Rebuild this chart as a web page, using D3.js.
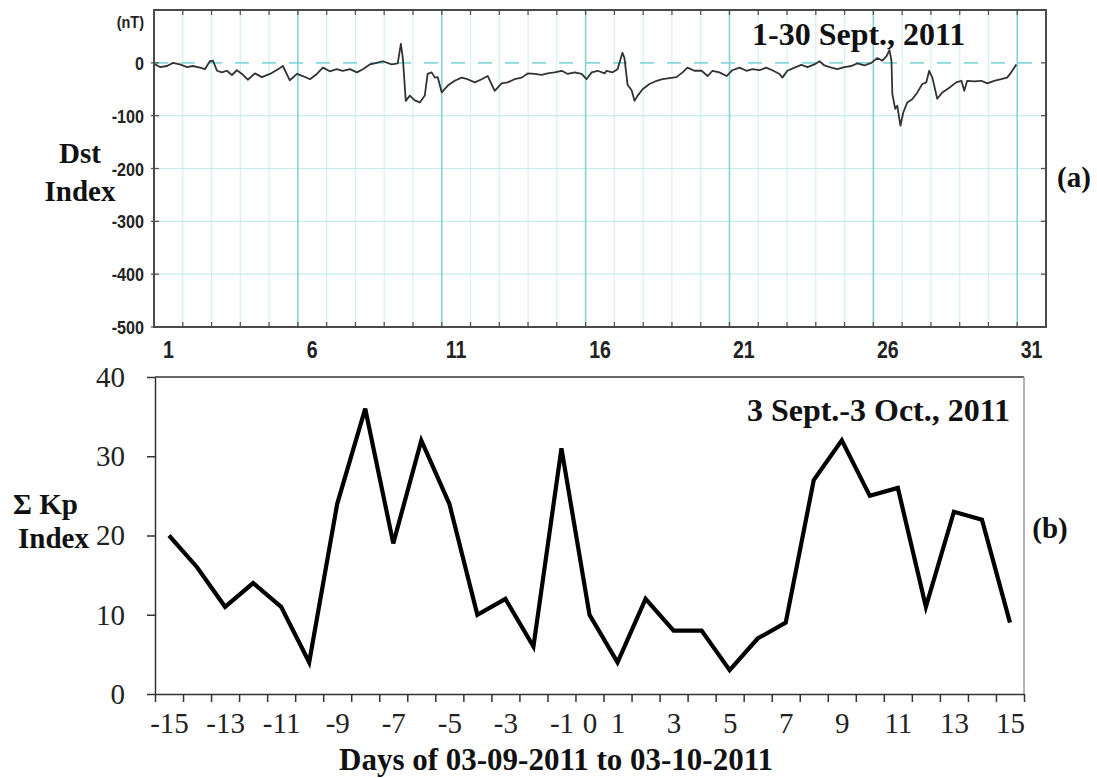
<!DOCTYPE html>
<html lang="en">
<head>
  <meta charset="UTF-8">
  <title>Dst and Kp, September 2011</title>
  <script src="https://d3js.org/d3.v7.min.js"></script>
  <style>
    body { margin: 0; background: #fff; }
    .ttl { font-family: "Liberation Serif", "Times New Roman", serif; font-weight: bold; fill: #111; }
    .kpaxis text { font-family: "Liberation Serif", "Times New Roman", serif; font-size: 29px; fill: #222; }
    .kpaxis path, .kpaxis line { stroke: #333; stroke-width: 1.5px; }
    .dstlab { font-family: "Liberation Sans", Arial, sans-serif; font-weight: bold; fill: #222; }
  </style>
</head>
<body>
  <svg id="chart" width="1097" height="778"></svg>
  <script>
    // panel (a): Dst trace, day of month (fractional) and nT
    const dstDay = [1.00, 1.21, 1.45, 1.66, 1.90, 2.15, 2.35, 2.60, 2.77, 2.94, 3.05, 3.19, 3.36, 3.53, 3.71, 3.88,
      4.06, 4.26, 4.51, 4.75, 5.03, 5.31, 5.48, 5.72, 5.97, 6.17, 6.42, 6.66, 6.87, 7.11, 7.35, 7.56, 7.81, 8.05,
      8.26, 8.50, 8.67, 8.95, 9.26, 9.47, 9.58, 9.65, 9.75, 9.89, 10.06, 10.24, 10.41, 10.51, 10.65, 10.76, 10.86,
      11.00, 11.21, 11.45, 11.69, 11.90, 12.15, 12.39, 12.60, 12.84, 13.08, 13.29, 13.53, 13.78, 13.99, 14.23,
      14.47, 14.68, 14.92, 15.17, 15.38, 15.62, 15.86, 16.03, 16.21, 16.42, 16.66, 16.73, 16.94, 17.11, 17.28,
      17.35, 17.46, 17.60, 17.70, 17.81, 17.98, 18.22, 18.47, 18.67, 18.92, 19.16, 19.37, 19.54, 19.78, 20.03,
      20.24, 20.41, 20.65, 20.90, 21.10, 21.35, 21.59, 21.80, 22.04, 22.28, 22.49, 22.74, 22.84, 23.01, 23.26,
      23.50, 23.71, 23.95, 24.13, 24.30, 24.54, 24.75, 24.99, 25.24, 25.44, 25.69, 25.93, 26.14, 26.31, 26.45,
      26.56, 26.63, 26.66, 26.76, 26.83, 26.94, 27.04, 27.18, 27.35, 27.53, 27.70, 27.84, 27.94, 28.05, 28.22,
      28.40, 28.64, 28.88, 29.06, 29.16, 29.26, 29.51, 29.75, 29.96, 30.20, 30.44, 30.65, 30.79, 30.97];
    const dstVal = [-2, -8, -6, 0, -3, -8, -6, -9, -12, 3, 4, -15, -18, -15, -23, -14,
      -21, -32, -20, -27, -21, -12, -6, -33, -21, -25, -31, -21, -9, -16, -12, -15, -12, -18,
      -12, -3, -1, 3, -3, -1, 36, 8, -72, -62, -71, -75, -62, -21, -18, -28, -27,
      -56, -43, -34, -28, -31, -37, -31, -25, -53, -39, -37, -31, -28, -20, -21,
      -23, -20, -18, -15, -21, -18, -21, -31, -18, -15, -20, -15, -18, -12, 19,
      9, -42, -52, -72, -62, -50, -40, -34, -31, -29, -27, -18, -9, -15, -15,
      -25, -15, -18, -25, -14, -9, -15, -12, -14, -9, -14, -21, -28, -15, -9,
      -4, -8, -3, 3, -5, -9, -12, -8, -6, -1, -5, 0, 9, 4, 12,
      24, 4, -59, -87, -81, -119, -94, -75, -69, -56, -40, -37, -15, -28, -68,
      -56, -47, -37, -34, -53, -34, -35, -34, -39, -34, -31, -28, -18, -3];
    const dstTicks = [0, -100, -200, -300, -400, -500];
    const dstGrid = [-100, -200, -300, -400];
    const dstDayLabels = [1, 6, 11, 16, 21, 26, 31];

    // panel (b): daily sum of Kp, day relative to 18 Sept
    const kpDays = [-15, -14, -13, -12, -11, -10, -9, -8, -7, -6, -5, -4, -3, -2, -1, 0,
      1, 2, 3, 4, 5, 6, 7, 8, 9, 10, 11, 12, 13, 14, 15];
    const kpSum = [20, 16, 11, 14, 11, 4, 24, 36, 19, 32, 24, 10, 12, 6, 31, 10,
      4, 12, 8, 8, 3, 7, 9, 27, 32, 25, 26, 11, 23, 22, 9];
    const kpTicks = [0, 10, 20, 30, 40];
    const kpLabels = [-15, -13, -11, -9, -7, -5, -3, -1, 0, 1, 3, 5, 7, 9, 11, 13, 15];

    const svg = d3.select("#chart");

    // ---------- panel (a) ----------
    const ax = d3.scaleLinear().domain([1, 32]).range([154, 1046]);
    const ay = d3.scaleLinear().domain([-500, 100]).range([327, 10]);
    const a = svg.append("g");
    const allDays = d3.range(2, 32);

    a.selectAll(".minor").data(allDays.filter(d => (d - 1) % 5 != 0))
      .join("line")
      .attr("x1", d => ax(d)).attr("x2", d => ax(d))
      .attr("y1", ay(100)).attr("y2", ay(-500))
      .attr("stroke", "#d4f0f1").attr("stroke-width", 1.2);

    a.selectAll(".hgrid").data(dstGrid)
      .join("line")
      .attr("x1", ax(1)).attr("x2", ax(32))
      .attr("y1", d => ay(d)).attr("y2", d => ay(d))
      .attr("stroke", "#c6ebed").attr("stroke-width", 1.2);

    a.selectAll(".major").data(allDays.filter(d => (d - 1) % 5 == 0))
      .join("line")
      .attr("x1", d => ax(d)).attr("x2", d => ax(d))
      .attr("y1", ay(100)).attr("y2", ay(-500))
      .attr("stroke", "#85d3d8").attr("stroke-width", 1.6);

    a.append("line")
      .attr("x1", ax(1)).attr("x2", ax(32))
      .attr("y1", ay(0)).attr("y2", ay(0))
      .attr("stroke", "#86d6dc").attr("stroke-width", 1.6)
      .attr("stroke-dasharray", "14,13");

    const dstLine = d3.line().x((d, i) => ax(dstDay[i])).y(d => ay(d));
    a.append("path").datum(dstVal)
      .attr("d", dstLine)
      .attr("fill", "none").attr("stroke", "#333").attr("stroke-width", 1.8)
      .attr("stroke-linejoin", "round");

    // day ticks on top and bottom edge, value ticks on the sides
    a.selectAll(".ttop").data(allDays).join("line")
      .attr("x1", d => ax(d)).attr("x2", d => ax(d))
      .attr("y1", ay(100)).attr("y2", ay(100) + 5)
      .attr("stroke", "#555").attr("stroke-width", 1.3);
    a.selectAll(".tbot").data(allDays).join("line")
      .attr("x1", d => ax(d)).attr("x2", d => ax(d))
      .attr("y1", ay(-500)).attr("y2", ay(-500) - 5)
      .attr("stroke", "#555").attr("stroke-width", 1.3);
    a.selectAll(".tleft").data(dstTicks).join("line")
      .attr("x1", ax(1) - 3).attr("x2", ax(1) + 5)
      .attr("y1", d => ay(d)).attr("y2", d => ay(d))
      .attr("stroke", "#555").attr("stroke-width", 1.3);
    a.selectAll(".tright").data(dstTicks).join("line")
      .attr("x1", ax(32) - 5).attr("x2", ax(32))
      .attr("y1", d => ay(d)).attr("y2", d => ay(d))
      .attr("stroke", "#555").attr("stroke-width", 1.3);

    a.append("rect")
      .attr("x", ax(1)).attr("y", ay(100))
      .attr("width", ax(32) - ax(1)).attr("height", ay(-500) - ay(100))
      .attr("fill", "none").attr("stroke", "#4a4a4a").attr("stroke-width", 2);

    // narrow bold sans labels
    function narrow(g, x, y, txt, size, anchor) {
      g.append("g").attr("transform", `translate(${x},${y}) scale(0.85,1)`)
        .append("text").attr("class", "dstlab")
        .attr("text-anchor", anchor).attr("font-size", size).text(txt);
    }
    dstTicks.forEach(d => narrow(a, 144, ay(d) + 7, d == 0 ? "0" : d, 19, "end"));
    narrow(a, 144, 28, "(nT)", 17, "end");
    dstDayLabels.forEach(d => narrow(a, ax(d + 0.5), 358, d, 23, "middle"));

    a.append("text").attr("class", "ttl").attr("font-size", 32)
      .attr("x", 752).attr("y", 45).text("1-30 Sept., 2011");
    a.append("text").attr("class", "ttl").attr("font-size", 29)
      .attr("x", 80).attr("y", 163).attr("text-anchor", "middle").text("Dst");
    a.append("text").attr("class", "ttl").attr("font-size", 29)
      .attr("x", 80).attr("y", 201).attr("text-anchor", "middle").text("Index");
    a.append("text").attr("class", "ttl").attr("font-size", 29)
      .attr("x", 1074).attr("y", 187).attr("text-anchor", "middle").text("(a)");

    // ---------- panel (b) ----------
    const bx = d3.scaleLinear().domain([-15.5, 15.5]).range([155, 1024]);
    const by = d3.scaleLinear().domain([0, 40]).range([694, 377]);
    const b = svg.append("g");

    b.append("line")
      .attr("x1", bx(-15.5)).attr("x2", bx(15.5))
      .attr("y1", by(40)).attr("y2", by(40))
      .attr("stroke", "#333").attr("stroke-width", 1.5);
    b.append("line")
      .attr("x1", bx(15.5)).attr("x2", bx(15.5))
      .attr("y1", by(40)).attr("y2", by(0))
      .attr("stroke", "#9a9a9a").attr("stroke-width", 1.5);

    b.append("g").attr("class", "kpaxis")
      .attr("transform", `translate(${bx(-15.5)},0)`)
      .call(d3.axisLeft(by).tickValues(kpTicks).tickSize(8).tickSizeOuter(0).tickPadding(22));

    const edges = kpDays.map(d => d - 0.5).concat([15.5]);
    b.append("g").attr("class", "kpaxis")
      .attr("transform", `translate(0,${by(0)})`)
      .call(d3.axisBottom(bx).tickValues(edges).tickSize(8).tickSizeOuter(0).tickFormat(""));
    b.append("g").attr("class", "kpaxis")
      .attr("transform", `translate(0,${by(0)})`)
      .call(d3.axisBottom(bx).tickValues(kpLabels).tickSize(0).tickPadding(18).tickFormat(d => d))
      .call(g => g.select(".domain").remove());

    const kpLine = d3.line().x((d, i) => bx(kpDays[i])).y(d => by(d));
    b.append("path").datum(kpSum)
      .attr("d", kpLine)
      .attr("fill", "none").attr("stroke", "#000").attr("stroke-width", 4.2)
      .attr("stroke-linejoin", "miter");

    b.append("text").attr("class", "ttl").attr("font-size", 32)
      .attr("x", 1010).attr("y", 421).attr("text-anchor", "end").text("3 Sept.-3 Oct., 2011");
    b.append("text").attr("class", "ttl").attr("font-size", 29)
      .attr("x", 13).attr("y", 514).text("Σ Kp");
    b.append("text").attr("class", "ttl").attr("font-size", 29)
      .attr("x", 18).attr("y", 548).text("Index");
    b.append("text").attr("class", "ttl").attr("font-size", 29)
      .attr("x", 1050).attr("y", 538).attr("text-anchor", "middle").text("(b)");
    b.append("text").attr("class", "ttl").attr("font-size", 31)
      .attr("x", 556).attr("y", 770).attr("text-anchor", "middle").text("Days of 03-09-2011 to 03-10-2011");
  </script>
</body>
</html>
